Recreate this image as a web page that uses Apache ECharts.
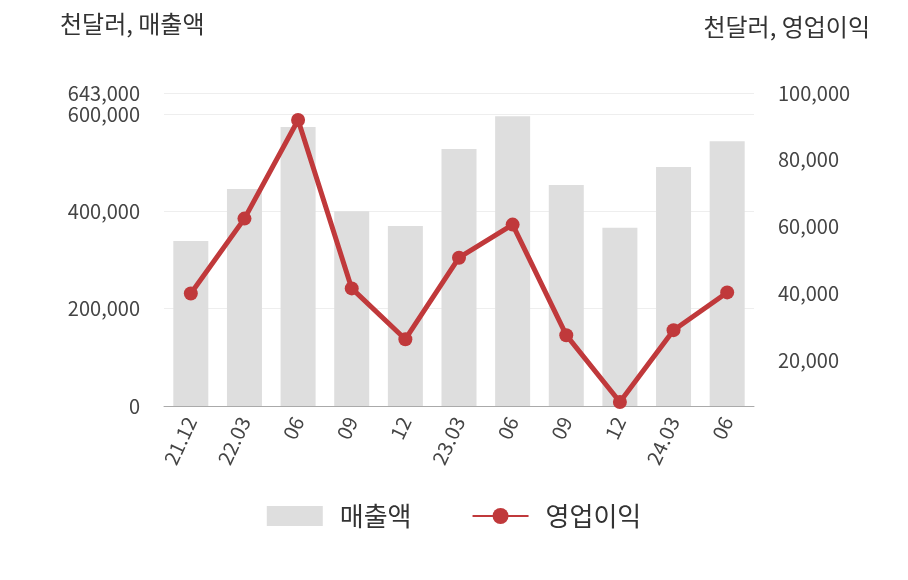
<!DOCTYPE html>
<html><head><meta charset="utf-8">
<script src="https://cdn.jsdelivr.net/npm/echarts@6/dist/echarts.min.js"></script>
<style>html,body{margin:0;background:#fff}#c{width:908px;height:580px}</style>
</head><body><div id="c"></div>
<script>
const categories=['21.12','22.03','06','09','12','23.03','06','09','12','24.03','06'];
const sales=[339000,446000,573000,400000,370000,528000,595000,454000,366000,491000,544000];
const profit=[40000,62400,91900,41500,26300,50700,60600,27500,7500,29000,40300];
const rightTicks=[20000,40000,60000,80000,100000];
const font='"Noto Sans CJK KR","Noto Sans",sans-serif';
const fmt=v=>v.toLocaleString('en-US');
const chart=echarts.init(document.getElementById('c'));
chart.setOption({
 animation:false,
 textStyle:{fontFamily:font},
 graphic:[
  {type:'text',left:60,top:12,style:{text:'천달러, 매출액',fontSize:24,fill:'#333',fontFamily:font}},
  {type:'text',right:38,top:15,style:{text:'천달러, 영업이익',fontSize:24,fill:'#333',fontFamily:font}}
 ],
 grid:{left:164,right:154,top:93,bottom:174},
 legend:{bottom:46,itemGap:60,itemWidth:56,itemHeight:20,textStyle:{fontSize:26,color:'#333',fontFamily:font,padding:[0,0,0,12]},
  data:[{name:'매출액',icon:'rect'},{name:'영업이익'}]},
 xAxis:{type:'category',data:categories,axisTick:{show:false},
  axisLine:{lineStyle:{color:'#aaa'}},
  axisLabel:{rotate:65,fontSize:20,color:'#444',margin:12,interval:0}},
 yAxis:[
  {type:'value',min:0,max:643000,interval:200000,axisLabel:{formatter:fmt,fontSize:20,color:'#444',margin:24},
   axisTick:{show:false},axisLine:{show:false},
   splitLine:{lineStyle:{color:'#eee'}}},
  {type:'value',min:6300,max:100000,position:'right',axisLabel:{customValues:rightTicks,formatter:fmt,fontSize:20,color:'#444',margin:24},
   axisTick:{show:false},axisLine:{show:false},splitLine:{show:false}}
 ],
 series:[
  {name:'매출액',type:'bar',data:sales,barWidth:35,itemStyle:{color:'#dedede'}},
  {name:'영업이익',type:'line',yAxisIndex:1,data:profit,symbol:'circle',symbolSize:14,
   lineStyle:{width:5,color:'#c0393b'},itemStyle:{color:'#c0393b'}}
 ]
});
</script></body></html>
